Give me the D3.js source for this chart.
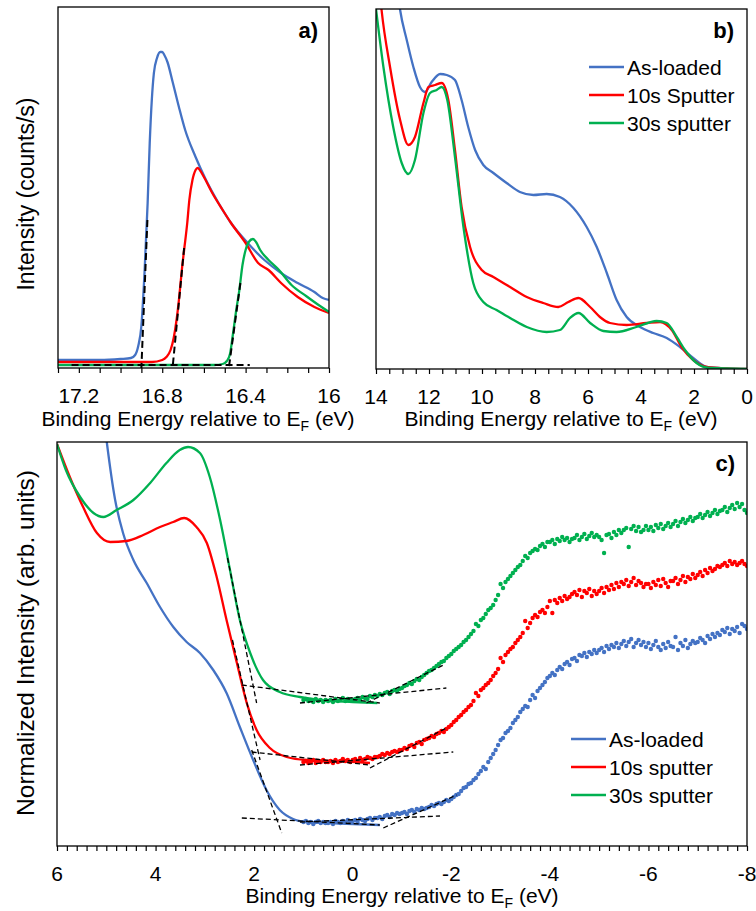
<!DOCTYPE html>
<html lang="en">
<head>
<meta charset="UTF-8" />
<title>UPS / IPES spectra</title>
<style>
  * { margin: 0; padding: 0; }
  body { background: #fff; }
  svg { display: block; font-family: 'Liberation Sans', Arial, sans-serif; }
</style>
</head>
<body>
<script src="https://cdn.jsdelivr.net/npm/d3@7"></script>
<script>
// ---- data (binding energy eV, intensity arb.) ----
// panel a: secondary electron cutoff
const aAsLoaded = [[17.30,8],[17.20,8],[17.10,8],[17.00,9],[16.95,10],[16.93,13],[16.915,22],[16.90,42],[16.885,95],[16.87,165],[16.86,225],[16.85,268],[16.84,295],[16.825,310],[16.81,316],[16.80,316],[16.79,313],[16.775,306],[16.75,286],[16.72,261],[16.69,238],[16.64,211],[16.59,188],[16.53,165],[16.47,145],[16.39,125],[16.31,108],[16.23,95],[16.15,85],[16.07,76],[16.03,70],[16.00,68]]
const a10s = [[17.30,6],[17.00,6],[16.85,6],[16.80,8],[16.78,11],[16.76,18],[16.745,30],[16.73,50],[16.72,68],[16.705,100],[16.695,118],[16.68,145],[16.67,168],[16.655,188],[16.64,198],[16.63,200],[16.62,198],[16.60,191],[16.56,175],[16.51,158],[16.47,145],[16.40,125],[16.34,105],[16.29,98],[16.23,85],[16.15,71],[16.07,61],[16.00,55]]
const a30s = [[17.30,3],[16.80,3],[16.55,3],[16.51,4],[16.49,7],[16.475,14],[16.46,35],[16.445,58],[16.43,78],[16.415,103],[16.40,118],[16.385,126],[16.365,129],[16.35,126],[16.33,118],[16.29,108],[16.24,98],[16.18,83],[16.11,72],[16.05,63],[16.00,56]]
const aFits = [
  [[16.871,148],[16.90,0]],
  [[16.695,120],[16.75,1]],
  [[16.425,85],[16.48,1]],
  [[17.235,3],[16.38,3]]
]
const aTicks = [17.2, 16.8, 16.4, 16]

// panel b: valence band
const bAsLoaded = [[13.35,420],[13.09,359],[12.84,329],[12.59,302],[12.34,282],[12.15,277],[11.90,287],[11.58,295],[11.33,294],[11.02,289],[10.77,269],[10.52,242],[10.26,219],[9.95,204],[9.57,196],[9.07,186],[8.57,177],[8.06,174],[7.56,175],[7.06,172],[6.55,161],[6.05,142],[5.67,122],[5.29,96],[4.92,69],[4.54,52],[4.04,42],[3.54,36],[3.03,31],[2.53,22],[2.03,11],[1.52,2],[0.77,0.5],[0,0]]
const b10s = [[14.0,420],[13.79,359],[13.47,302],[13.09,249],[12.78,224],[12.53,232],[12.21,266],[12.02,282],[11.77,284],[11.52,286],[11.27,269],[11.02,219],[10.77,162],[10.45,122],[10.01,99],[9.57,92],[8.94,82],[8.31,72],[7.69,66],[7.12,62],[6.74,67],[6.36,71],[5.92,62],[5.55,52],[5.17,46],[4.54,44],[3.79,46],[3.28,47],[2.84,39],[2.47,22],[2.03,9],[1.52,2],[0.77,0.5],[0,0]]
const b30s = [[14.0,360],[13.72,302],[13.35,242],[13.03,206],[12.78,195],[12.53,209],[12.21,256],[11.96,276],[11.71,279],[11.52,282],[11.31,269],[11.02,212],[10.70,142],[10.33,86],[9.95,67],[9.45,59],[8.94,51],[8.31,42],[7.56,37],[7.06,39],[6.68,51],[6.36,56],[5.92,46],[5.42,38],[4.92,37],[4.17,42],[3.41,48],[3.03,46],[2.65,32],[2.34,19],[1.90,6],[1.40,1],[0,0]]
const bTicks = [14, 12, 10, 8, 6, 4, 2, 0]
const bNames = ['As-loaded', '10s Sputter', '30s sputter']

// panel c: VB edge (lines) and IPES (dots)
const cAsLoadedLine = [[5.10,450],[4.99,404],[4.82,346],[4.66,313],[4.45,286],[4.18,263],[3.91,239],[3.64,219],[3.37,204],[3.10,193],[2.83,176],[2.56,153],[2.29,119],[2.02,86],[1.75,56],[1.48,36],[1.21,27],[0.94,24],[0.5,23],[0,22],[-0.55,21]]
const c10sLine = [[6.0,402],[5.74,369],[5.47,339],[5.19,313],[4.92,304],[4.59,305],[4.25,311],[3.91,319],[3.64,324],[3.42,328],[3.17,319],[2.96,303],[2.76,269],[2.56,226],[2.35,183],[2.15,143],[1.95,116],[1.68,98],[1.34,89],[0.94,86],[0.3,85],[-0.35,83]]
const c30sLine = [[6.0,402],[5.82,376],[5.53,349],[5.26,333],[5.06,329],[4.79,336],[4.45,346],[4.11,363],[3.78,383],[3.51,396],[3.34,399],[3.10,393],[2.90,369],[2.69,326],[2.49,276],[2.29,226],[2.08,193],[1.82,166],[1.48,154],[1.07,149],[0.67,146],[0,144],[-0.5,143]]

// IPES dots, first point at 1.0 eV, then every 0.05 eV down to -8 eV
const cDotStart = 1.0
const cDotStep = 0.05
const cAsLoadedDots = [24,25,23,24,22,24,25,23,24,23, 23,24,22,25,24,23,25,24,26,24, 25,26,24,27,26,25,27,28,26,28,
  28,29,27,30,31,29,32,31,33,32, 33,34,32,35,36,34,37,36,38,37, 38,39,41,40,42,43,42,44,46,45,
  47,49,51,52,55,58,59,62,63,66, 68,72,75,79,77,84,88,92,96,101, 106,108,113,115,118,123,126,129,134,137,
  140,139,146,151,148,155,158,161,164,168, 170,173,171,176,179,177,182,184,181,187, 188,185,191,190,193,189,194,192,196,193,
  196,198,194,200,197,201,199,203,198,202, 205,200,204,207,199,203,206,201,204,199, 203,197,201,205,199,196,202,198,204,200,
  199,209,196,203,200,206,198,202,205,203, 204,208,206,203,210,207,212,209,213,211, 216,214,218,212,217,215,219,213,222,220,217]
const c10sDots = [84,85,83,84,86,83,85,84,86,84, 84,85,83,86,84,85,87,85,86,84, 86,87,85,88,86,87,89,88,87,89,
  89,90,92,91,93,92,94,95,94,96, 96,98,97,100,101,99,103,104,102,106, 107,108,110,109,112,113,115,114,117,119,
  121,124,126,129,131,134,136,139,141,145, 153,150,156,158,161,163,166,170,173,177, 188,184,191,194,197,199,203,206,209,213,
  225,218,223,228,231,229,234,236,233,239, 245,233,246,243,248,245,250,247,249,252, 254,251,256,249,255,253,257,250,255,252,
  255,258,253,259,256,261,257,263,259,264, 262,266,260,264,268,261,265,263,259,262, 262,258,264,261,266,260,267,263,259,265,
  265,268,262,266,270,264,269,267,272,268, 271,274,270,276,273,278,275,277,280,279, 281,283,280,285,282,284,281,283,285,282,280]
const c30sDots = [146,147,145,146,144,147,145,146,144,146, 145,146,144,147,145,146,148,145,147,146, 146,147,148,146,149,148,147,150,149,151,
  150,152,151,153,154,152,155,156,155,157, 158,160,161,163,162,165,167,166,169,171, 173,175,176,178,180,182,184,185,188,190,
  192,195,197,199,201,204,206,209,212,215, 222,220,226,228,232,236,238,241,246,251, 262,258,264,267,270,273,276,279,281,285,
  290,288,293,295,297,296,300,302,299,304, 304,306,302,307,305,309,306,308,304,307, 308,311,306,309,312,307,310,313,309,311,
  309,306,293,311,312,308,314,311,316,313, 316,318,299,317,320,315,319,314,316,320, 316,319,315,321,318,322,317,320,323,319,
  322,325,320,324,327,323,326,329,325,328, 329,332,328,331,334,330,333,336,332,335, 336,339,334,338,341,337,343,339,342,336,333]

const cFits = [
  [[2.54,288],[1.95,143]], [[2.25,161],[-0.55,143]], [[1.07,143],[-1.9,158]], [[-0.28,143],[-1.84,181]],
  [[2.44,206],[1.88,86]], [[2.05,94],[-0.35,81]], [[1.07,81],[-2.04,94]], [[-0.35,78],[-1.90,118]],
  [[2.05,96],[1.44,13]], [[2.25,28],[-0.55,21]], [[1.07,24],[-1.77,30]], [[-0.62,18],[-2.11,51]]
]
const cTicks = [6, 4, 2, 0, -2, -4, -6, -8]
const cNames = ['As-loaded', '10s sputter', '30s sputter']

const colors = ['#4472C4', '#FF0000', '#00B050']

const svg = d3.select('body').append('svg')
  .attr('width', 756)
  .attr('height', 911)

// builds frame, ticks and tick labels; returns scales and a clipped group
function makePanel(id, xDom, xRange, yDom, yRange, ticks, minorStep) {
  const x = d3.scaleLinear().domain(xDom).range(xRange)
  const y = d3.scaleLinear().domain(yDom).range(yRange)
  svg.append('clipPath').attr('id', id)
    .append('rect')
    .attr('x', xRange[0]).attr('y', yRange[1])
    .attr('width', xRange[1] - xRange[0]).attr('height', yRange[0] - yRange[1])
  const plot = svg.append('g').attr('clip-path', `url(#${id})`)

  const n = Math.round(Math.abs(xDom[0] - xDom[1]) / minorStep)
  const lo = Math.min(xDom[0], xDom[1])
  const minor = d3.range(n + 1).map(i => lo + i * minorStep)
  const axis = svg.append('g')
    .attr('transform', `translate(0,${yRange[0]})`)
    .call(d3.axisBottom(x).tickValues(minor).tickSize(5).tickSizeOuter(0).tickFormat(''))
  axis.select('.domain').remove()
  axis.selectAll('line').attr('stroke', '#000').attr('stroke-width', 1.2)

  svg.append('g').selectAll('text')
    .data(ticks)
    .join('text')
    .attr('x', d => x(d))
    .attr('y', yRange[0] + 35)
    .attr('text-anchor', 'middle')
    .attr('font-size', 21)
    .text(d => d)

  svg.append('rect')
    .attr('x', xRange[0]).attr('y', yRange[1])
    .attr('width', xRange[1] - xRange[0]).attr('height', yRange[0] - yRange[1])
    .attr('fill', 'none').attr('stroke', '#000').attr('stroke-width', 1.3)
  return { x, y, plot }
}

function xTitle(cx, baseline) {
  const t = svg.append('text')
    .attr('x', cx).attr('y', baseline)
    .attr('text-anchor', 'middle')
    .attr('font-size', 21)
  t.append('tspan').text('Binding Energy relative to E')
  t.append('tspan').attr('font-size', 14).attr('dy', 5).text('F')
  t.append('tspan').attr('dy', -5).text(' (eV)')
}

function yTitle(cx, cy, label, size) {
  svg.append('text')
    .attr('transform', `translate(${cx},${cy}) rotate(-90)`)
    .attr('text-anchor', 'middle')
    .attr('font-size', size)
    .text(label)
}

function panelLabel(x, y, label) {
  svg.append('text')
    .attr('x', x).attr('y', y)
    .attr('text-anchor', 'end')
    .attr('font-size', 22)
    .attr('font-weight', 'bold')
    .text(label)
}

function legend(x0, y0, names) {
  names.forEach((name, i) => {
    const yy = y0 + i * 28
    svg.append('line')
      .attr('x1', x0).attr('x2', x0 + 35)
      .attr('y1', yy).attr('y2', yy)
      .attr('stroke', colors[i]).attr('stroke-width', 2.5)
    svg.append('text')
      .attr('x', x0 + 38).attr('y', yy + 7.5)
      .attr('font-size', 21)
      .text(name)
  })
}

function drawLine(p, data, color, width) {
  const line = d3.line()
    .x(d => p.x(d[0]))
    .y(d => p.y(d[1]))
    .curve(d3.curveMonotoneX)
  p.plot.append('path')
    .datum(data)
    .attr('d', line)
    .attr('fill', 'none')
    .attr('stroke', color)
    .attr('stroke-width', width)
}

function drawFits(p, fits, width, dash) {
  const line = d3.line().x(d => p.x(d[0])).y(d => p.y(d[1]))
  p.plot.append('g').selectAll('path')
    .data(fits)
    .join('path')
    .attr('d', line)
    .attr('fill', 'none')
    .attr('stroke', '#000')
    .attr('stroke-width', width)
    .attr('stroke-dasharray', dash)
}

// ---- panel a ----
const pa = makePanel('clip-a', [17.3, 16.0], [58, 329], [0, 361], [368, 7], aTicks, 0.1)
;[aAsLoaded, a10s, a30s].forEach((s, i) => drawLine(pa, s, colors[i], 2.3))
drawFits(pa, aFits, 2, '7,4')
xTitle(198, 426)
yTitle(34, 194, 'Intensity (counts/s)', 23)
panelLabel(318, 38, 'a)')

// ---- panel b ----
const pb = makePanel('clip-b', [14, 0], [376, 747], [0, 360], [369, 9], bTicks, 0.5)
;[bAsLoaded, b10s, b30s].forEach((s, i) => drawLine(pb, s, colors[i], 2.3))
xTitle(561, 426)
panelLabel(734, 38, 'b)')
legend(589, 67, bNames)

// ---- panel c ----
const pc = makePanel('clip-c', [6, -8], [57, 747], [0, 404], [846, 442], cTicks, 0.2)
;[cAsLoadedLine, c10sLine, c30sLine].forEach((s, i) => drawLine(pc, s, colors[i], 2.3))
;[cAsLoadedDots, c10sDots, c30sDots].forEach((vals, k) => {
  pc.plot.append('g').selectAll('circle')
    .data(vals)
    .join('circle')
    .attr('cx', (d, i) => pc.x(cDotStart - i * cDotStep))
    .attr('cy', d => pc.y(d))
    .attr('r', 2.2)
    .attr('fill', colors[k])
})
drawFits(pc, cFits, 1.3, '5,3')
xTitle(402, 903)
yTitle(34, 643, 'Normalized Intensity (arb. units)', 24.5)
panelLabel(735, 471, 'c)')
legend(571, 739, cNames)
</script>
</body>
</html>
